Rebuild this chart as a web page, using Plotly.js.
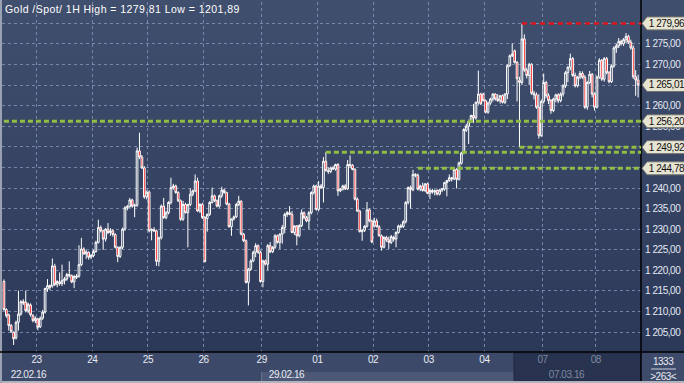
<!DOCTYPE html>
<html><head><meta charset="utf-8">
<script src="https://cdn.plot.ly/plotly-3.0.1.min.js"></script>
<style>
html,body{margin:0;padding:0;background:#2b3756;}
#wrap{position:relative;width:684px;height:383px;overflow:hidden;background:linear-gradient(#414f6e,#2a3655);}
#chart{position:absolute;left:0;top:0;width:684px;height:383px;}
#chart svg text{letter-spacing:-0.45px;}
</style></head><body><div id="wrap"><div id="chart"></div></div>
<script>
// ---- data (hourly bars, Gold spot) ----
const openP = [1217.3,1210.5,1209.2,1206.6,1205.0,1203.6,1207.4,1209.4,1212.4,1212.3,1210.2,1211.6,1209.0,1207.8,1208.2,1206.3,1208.4,1209.9,1215.5,1216.3,1216.2,1221.0,1216.6,1217.2,1216.8,1217.5,1217.9,1219.0,1218.7,1217.2,1218.3,1218.6,1221.4,1225.2,1224.0,1224.4,1223.2,1223.6,1224.6,1226.8,1230.4,1229.6,1227.6,1230.0,1229.2,1229.6,1228.7,1225.6,1223.4,1225.6,1230.0,1235.2,1235.5,1237.1,1235.6,1235.8,1249.0,1247.5,1244.9,1237.8,1239.0,1229.6,1229.9,1229.6,1222.2,1227.9,1235.6,1232.8,1234.0,1236.5,1240.1,1240.5,1238.9,1236.9,1232.4,1236.0,1234.0,1236.0,1238.5,1239.3,1241.7,1234.4,1236.0,1232.8,1232.6,1233.6,1236.5,1238.1,1236.9,1235.6,1238.1,1239.5,1238.9,1236.1,1230.6,1232.5,1233.0,1236.0,1236.8,1228.8,1227.2,1217.1,1220.3,1222.3,1224.4,1226.0,1224.4,1217.3,1222.3,1221.5,1226.0,1224.5,1225.6,1228.4,1226.8,1228.8,1230.4,1233.6,1234.0,1233.6,1229.2,1230.8,1228.4,1230.9,1234.0,1232.8,1232.0,1234.0,1238.9,1240.5,1234.8,1240.5,1240.1,1246.5,1244.2,1244.0,1244.9,1244.6,1245.7,1239.3,1239.7,1240.5,1239.8,1245.7,1245.5,1244.5,1237.3,1234.4,1229.4,1229.7,1230.7,1234.7,1232.0,1230.8,1232.0,1230.6,1228.4,1225.6,1228.0,1227.4,1226.8,1228.0,1227.6,1229.2,1230.8,1230.6,1231.8,1236.5,1240.1,1239.6,1243.3,1243.1,1239.7,1240.5,1239.4,1241.0,1238.7,1239.4,1239.0,1239.4,1238.5,1239.5,1239.7,1241.3,1241.8,1242.5,1242.2,1244.5,1242.1,1246.0,1248.5,1254.0,1255.0,1256.2,1257.6,1257.0,1260.8,1262.8,1262.8,1261.2,1258.4,1260.6,1261.6,1262.8,1261.6,1261.2,1262.4,1260.8,1262.8,1269.7,1272.1,1273.3,1270.5,1266.2,1265.6,1276.2,1268.6,1267.3,1270.0,1263.0,1262.6,1259.6,1252.7,1261.0,1265.6,1262.4,1261.2,1258.8,1261.6,1262.6,1261.2,1262.8,1264.8,1268.0,1269.3,1271.4,1267.3,1264.8,1266.9,1267.8,1266.9,1259.6,1265.6,1267.6,1262.8,1259.6,1266.9,1271.0,1266.4,1271.4,1268.0,1265.8,1269.6,1274.0,1274.5,1275.6,1275.0,1276.0,1276.8,1275.4,1274.0,1267.0,1266.2];
const highP = [1217.8,1210.8,1209.5,1207.0,1205.2,1207.8,1215.1,1212.8,1213.0,1215.1,1212.2,1212.0,1209.4,1208.8,1208.5,1208.8,1210.4,1215.8,1217.9,1216.6,1222.9,1221.6,1217.6,1219.5,1221.4,1218.4,1219.4,1222.2,1219.0,1218.9,1219.1,1226.1,1227.9,1225.6,1224.9,1224.6,1224.0,1225.0,1227.2,1232.3,1230.9,1229.9,1230.3,1231.5,1230.2,1230.0,1229.0,1225.8,1225.9,1230.4,1235.6,1235.9,1237.6,1237.4,1236.2,1249.8,1253.4,1248.0,1245.3,1239.4,1239.4,1230.2,1230.5,1229.9,1228.2,1236.0,1237.6,1234.5,1236.8,1242.5,1241.0,1240.8,1239.2,1237.2,1236.9,1236.4,1236.2,1239.9,1239.6,1243.3,1242.5,1236.3,1236.4,1233.2,1233.8,1236.8,1240.1,1238.4,1237.2,1238.4,1240.3,1239.8,1239.1,1236.4,1232.6,1233.3,1236.4,1238.1,1237.0,1229.1,1227.5,1220.6,1222.7,1224.8,1226.6,1226.3,1224.8,1222.6,1222.6,1226.4,1226.9,1225.9,1228.8,1228.7,1229.0,1231.0,1234.0,1234.4,1235.6,1234.4,1231.0,1231.0,1231.2,1234.8,1234.3,1233.2,1234.4,1239.2,1240.8,1240.8,1241.7,1241.0,1247.5,1248.7,1245.0,1245.2,1245.4,1245.9,1246.0,1240.0,1240.8,1240.9,1246.8,1247.9,1245.8,1244.8,1237.7,1234.7,1230.0,1231.0,1236.6,1235.0,1232.3,1232.8,1232.6,1231.0,1228.7,1228.3,1228.4,1228.2,1228.6,1228.4,1229.5,1231.1,1231.3,1232.2,1236.8,1240.4,1240.6,1244.4,1243.6,1243.5,1240.8,1241.3,1241.2,1241.3,1239.8,1239.8,1239.6,1239.7,1239.8,1240.0,1241.5,1242.0,1243.3,1242.7,1244.8,1244.8,1246.4,1248.8,1254.5,1255.6,1256.6,1257.8,1260.4,1261.0,1268.5,1263.1,1263.1,1261.5,1261.0,1261.9,1263.0,1263.0,1262.8,1262.6,1262.7,1263.0,1270.0,1272.4,1275.1,1273.6,1270.8,1267.0,1279.81,1277.3,1269.2,1270.4,1270.3,1263.6,1263.2,1262.8,1261.5,1267.8,1266.0,1263.0,1261.6,1261.9,1262.9,1263.0,1263.2,1265.2,1268.4,1269.6,1272.6,1271.8,1268.0,1267.2,1268.4,1268.3,1267.4,1266.0,1268.4,1267.9,1263.2,1267.3,1271.5,1271.3,1271.8,1271.8,1268.4,1270.0,1274.4,1275.0,1276.4,1276.0,1276.4,1277.6,1277.2,1276.0,1274.6,1268.6,1267.5];
const lowP = [1210.2,1208.5,1205.4,1204.8,1201.89,1203.2,1205.4,1209.0,1211.6,1209.8,1209.6,1208.8,1207.4,1207.2,1205.5,1206.0,1208.0,1209.5,1214.8,1215.2,1215.8,1216.2,1215.9,1216.3,1216.2,1216.6,1217.5,1218.3,1216.9,1215.7,1217.9,1218.2,1221.0,1223.8,1222.8,1222.6,1222.7,1223.2,1224.3,1226.5,1229.2,1225.0,1227.0,1228.8,1228.4,1228.2,1225.3,1222.0,1223.0,1225.2,1229.6,1234.6,1235.2,1235.2,1232.9,1235.4,1247.0,1244.6,1237.4,1237.2,1229.2,1227.3,1229.3,1221.1,1221.0,1227.5,1232.5,1232.4,1233.6,1236.0,1239.6,1238.6,1236.6,1232.0,1232.0,1233.8,1225.6,1235.6,1238.0,1239.0,1234.2,1233.9,1232.5,1222.0,1229.4,1233.2,1236.2,1236.6,1235.3,1235.2,1237.6,1238.6,1235.8,1230.4,1228.4,1232.1,1232.7,1235.6,1228.5,1226.9,1216.8,1211.5,1219.9,1222.0,1223.2,1224.0,1217.0,1215.9,1221.2,1220.0,1224.2,1224.2,1225.2,1226.5,1225.2,1226.5,1229.0,1233.0,1233.4,1229.0,1228.6,1226.1,1228.0,1230.5,1232.4,1231.7,1230.0,1233.6,1238.4,1234.5,1234.3,1239.8,1236.5,1244.0,1243.4,1243.6,1244.4,1244.2,1238.1,1239.0,1239.4,1239.5,1239.5,1244.8,1244.3,1237.0,1234.2,1229.2,1227.2,1229.3,1230.4,1231.7,1226.6,1230.4,1230.4,1228.2,1224.8,1225.3,1226.9,1225.2,1226.4,1227.0,1225.6,1228.9,1230.2,1230.3,1231.4,1236.0,1235.0,1239.2,1242.6,1239.4,1239.2,1239.1,1239.0,1238.5,1237.3,1238.6,1238.2,1238.2,1238.2,1239.0,1239.3,1238.0,1241.5,1241.6,1241.9,1239.9,1241.8,1245.7,1248.2,1253.6,1250.7,1255.8,1255.8,1256.6,1260.2,1260.2,1261.0,1258.1,1258.0,1260.2,1261.0,1261.2,1260.9,1260.5,1260.5,1260.4,1261.6,1269.4,1271.8,1270.2,1261.0,1249.92,1265.0,1268.2,1266.6,1265.0,1262.6,1261.5,1259.2,1252.0,1252.4,1260.5,1261.8,1260.4,1258.0,1258.4,1260.8,1260.6,1260.8,1262.2,1264.3,1265.7,1268.6,1267.0,1264.4,1264.4,1266.4,1266.5,1259.2,1259.0,1265.2,1262.0,1258.8,1259.3,1266.5,1266.0,1265.8,1267.6,1265.4,1265.5,1269.2,1272.8,1274.0,1274.6,1274.5,1275.2,1275.0,1273.6,1266.5,1262.4,1262.0];
const closeP = [1210.5,1209.0,1206.6,1205.2,1203.4,1207.4,1209.4,1212.4,1212.1,1210.2,1211.8,1209.2,1207.8,1208.4,1206.2,1208.4,1209.9,1215.6,1216.3,1215.9,1221.1,1216.6,1217.3,1216.8,1217.5,1217.9,1219.0,1218.7,1217.2,1218.5,1218.6,1221.4,1225.2,1224.0,1224.5,1223.2,1223.6,1224.6,1226.8,1230.4,1229.6,1227.6,1230.0,1229.2,1229.6,1228.7,1225.6,1223.4,1225.6,1230.0,1235.2,1235.5,1237.1,1235.6,1235.8,1249.0,1247.5,1244.9,1237.8,1239.0,1229.6,1229.9,1229.6,1222.2,1227.9,1235.6,1232.8,1234.0,1236.5,1240.1,1240.5,1238.9,1236.9,1232.4,1236.0,1234.0,1236.0,1238.5,1239.3,1241.7,1234.4,1236.0,1232.8,1222.1,1233.6,1236.5,1238.1,1236.9,1235.6,1238.1,1239.5,1238.9,1236.1,1230.6,1232.5,1233.0,1236.0,1236.8,1228.8,1227.2,1217.1,1220.3,1222.3,1224.4,1226.0,1224.4,1217.3,1222.3,1221.5,1226.0,1224.5,1225.6,1228.4,1226.8,1228.8,1230.4,1233.6,1234.0,1233.6,1229.2,1230.8,1228.4,1230.9,1234.0,1232.8,1232.0,1234.0,1238.9,1240.5,1234.8,1240.5,1240.1,1246.5,1244.2,1244.0,1244.9,1244.6,1245.7,1239.3,1239.7,1240.5,1239.8,1245.7,1245.5,1244.5,1237.3,1234.4,1229.4,1229.7,1230.7,1234.7,1232.0,1226.9,1232.0,1230.6,1228.4,1225.6,1228.0,1227.4,1226.8,1228.2,1227.6,1229.2,1230.8,1230.6,1231.8,1236.5,1240.1,1239.6,1243.3,1243.1,1239.7,1240.5,1239.4,1241.0,1238.7,1239.4,1239.0,1239.4,1238.5,1239.5,1239.8,1241.3,1241.8,1242.5,1242.2,1244.5,1242.1,1246.1,1248.5,1254.2,1255.0,1256.2,1257.6,1257.0,1260.8,1262.8,1260.4,1261.2,1258.4,1260.6,1261.6,1262.8,1261.6,1261.2,1262.4,1260.8,1262.8,1269.7,1272.1,1272.5,1270.5,1266.5,1265.6,1276.2,1268.6,1267.3,1270.0,1263.0,1262.6,1259.6,1252.7,1261.0,1265.6,1262.4,1261.2,1258.8,1261.6,1262.6,1261.2,1262.8,1264.8,1268.0,1269.3,1271.4,1267.3,1264.8,1266.9,1267.8,1266.9,1259.6,1265.6,1267.6,1262.8,1259.6,1266.9,1271.0,1266.4,1271.4,1268.0,1265.8,1269.6,1274.0,1274.5,1275.6,1275.0,1276.0,1276.8,1275.4,1274.0,1267.0,1266.2,1265.01];

const dayStart  = [14,37,60,83,107,130,153,176,199,223,245];
const dayLabels = ['23','24','25','26','29','01','02','03','04','07','08'];
const weekStart = [0,107,223];
const weekLabels = ['22.02.16','29.02.16','07.03.16'];

const yTickVals = [1205,1210,1215,1220,1225,1230,1235,1240,1245,1250,1255,1260,1265,1270,1275,1280];
const yTickText = ['1 205,00','1 210,00','1 215,00','1 220,00','1 225,00','1 230,00','1 235,00','1 240,00','','','1 255,00','1 260,00','','1 270,00','1 275,00',''];

// horizontal levels: price, start bar, label, kind
const levelPrice = [1279.96, 1256.20, 1249.92, 1248.70, 1244.78];
const levelStart = [214, 0, 213, 133, 171];
const levelLabel = ['1 279,96','1 256,20','1 249,92','','1 244,78'];
const levelKind  = ['high','support','support','support','support'];
const lastPrice = 1265.01, lastLabel = '1 265,01';

const titleText = 'Gold /Spot/ 1H High = 1279,81 Low = 1201,89';
const cornerTop = '1333', cornerBottom = '>263<';

// ---- layout geometry ----
const W = 684, H = 383, ML = 2, MR = 43, MT = 2, MB = 31;
const PW = W - ML - MR, PH = H - MT - MB;
const px = v => (v - ML) / PW;          // pixel x -> paper
const py = v => (H - MB - v) / PH;      // pixel y -> paper
const idx = closeP.map((_, i) => i);
const xr = [-0.8, 263.2];
const barPx = i => ML + (i - xr[0]) * PW / (xr[1] - xr[0]);

const FONT = '"Liberation Sans",Arial,sans-serif';
const FS = 10;

const shapes = [];
const ann = [];

// bottom strip backgrounds
shapes.push({type:'rect',xref:'paper',yref:'paper',x0:px(0),x1:px(W),y0:py(H),y1:py(H-MB),fillcolor:'#3c4968',line:{width:0},layer:'below'});
shapes.push({type:'rect',xref:'paper',yref:'paper',x0:px(barPx(weekStart[1]-0.5)),x1:px(514),y0:py(381),y1:py(372),fillcolor:'#4c5875',line:{width:0},layer:'below'});
shapes.push({type:'rect',xref:'paper',yref:'paper',x0:px(514),x1:1,y0:py(381),y1:py(353),fillcolor:'#28334f',line:{color:'#1f2840',width:1},layer:'below'});
shapes.push({type:'line',xref:'paper',yref:'paper',x0:px(barPx(weekStart[1]-0.5)),x1:px(barPx(weekStart[1]-0.5)),y0:py(381),y1:py(372),line:{color:'#6c7894',width:1}});
// bottom light border and left border
shapes.push({type:'rect',xref:'paper',yref:'paper',x0:px(0),x1:px(W),y0:py(H),y1:py(381),fillcolor:'#aeb3be',line:{width:0},layer:'below'});
shapes.push({type:'rect',xref:'paper',yref:'paper',x0:px(0),x1:px(2),y0:py(H),y1:py(0),fillcolor:'#9aa1b0',line:{width:0},layer:'below'});
// right corner box
shapes.push({type:'rect',xref:'paper',yref:'paper',x0:1,x1:px(W),y0:py(381),y1:py(352),fillcolor:'#3d4a69',line:{width:0},layer:'below'});
shapes.push({type:'line',xref:'paper',yref:'paper',x0:px(651),x1:px(676),y0:py(369),y1:py(369),line:{color:'#c9d0de',width:1}});
// black separators
shapes.push({type:'line',xref:'paper',yref:'paper',x0:1,x1:1,y0:py(381),y1:py(0),line:{color:'#000000',width:1.5}});
shapes.push({type:'line',xref:'paper',yref:'paper',x0:px(0),x1:px(W),y0:0,y1:0,line:{color:'#000000',width:1.5}});

// level lines
levelPrice.forEach((p, k) => {
  const high = levelKind[k] === 'high';
  shapes.push({type:'line',xref:'x',yref:'y',x0:levelStart[k],x1:xr[1],y0:p,y1:p,
    line:{color: high ? '#e3141b' : '#8fbd45', width: high ? 2.5 : 3, dash: high ? '5px,4px' : '5px,3px'}});
});

// price tags (arrow-shaped) on right axis
function tag(p, label, fill) {
  shapes.push({type:'path',xref:'paper',xsizemode:'pixel',xanchor:1,yref:'y',ysizemode:'pixel',yanchor:p,
    path:'M 1 0 L 6 6.5 L 46 6.5 L 46 -6.5 L 6 -6.5 Z',fillcolor:fill,line:{color:'#6f716a',width:1},layer:'above'});
  ann.push({xref:'paper',yref:'y',x:1,y:p,xanchor:'left',yanchor:'middle',xshift:4,showarrow:false,
    text:label,font:{family:FONT,size:FS,color:'#111111'}});
}
levelPrice.forEach((p, k) => { if (levelLabel[k]) tag(p, levelLabel[k], '#e6e4d3'); });
tag(lastPrice, lastLabel, '#e6e4d3');

// title
ann.push({xref:'paper',yref:'paper',x:px(3),y:py(9),xanchor:'left',yanchor:'middle',showarrow:false,
  text:'<span style="letter-spacing:0.45px">' + titleText + '</span>',font:{family:FONT,size:10.5,color:'#ffffff'}});
// week labels
weekLabels.forEach((t, k) => {
  ann.push({xref:'x',yref:'paper',x:weekStart[k] === 0 ? xr[0] : weekStart[k]-0.5,y:py(375),xanchor:'left',yanchor:'middle',
    xshift: weekStart[k] === 0 ? 5 : 3,showarrow:false,text:t,
    font:{family:FONT,size:FS,color: k === 2 ? '#7f8aa0' : '#e8ecf4'}});
});
// corner text
ann.push({xref:'paper',yref:'paper',x:px(663),y:py(361),xanchor:'center',yanchor:'middle',showarrow:false,text:cornerTop,font:{family:FONT,size:FS,color:'#e8ecf4'}});
ann.push({xref:'paper',yref:'paper',x:px(663),y:py(376),xanchor:'center',yanchor:'middle',showarrow:false,text:cornerBottom,font:{family:FONT,size:FS,color:'#e8ecf4'}});

const tickTextX = dayLabels.map((t, k) => dayStart[k] >= weekStart[2] ? '<span style="color:#7f8aa0">' + t + '</span>' : t);

const trace = {
  type:'candlestick', x: idx, open: openP, high: highP, low: lowP, close: closeP,
  increasing:{line:{color:'#ffffff',width:1}, fillcolor:'#3a4866'},
  decreasing:{line:{color:'#ffffff',width:1}, fillcolor:'#ff0000'},
  whiskerwidth:0, hoverinfo:'skip', showlegend:false
};

const layout = {
  width:W, height:H, margin:{l:ML,r:MR,t:MT,b:MB,pad:0},
  paper_bgcolor:'rgba(0,0,0,0)', plot_bgcolor:'rgba(0,0,0,0)',
  boxgap:0, showlegend:false,
  font:{family:FONT,size:FS,color:'#e8ecf4'},
  xaxis:{range:xr, rangeslider:{visible:false}, tickmode:'array',
    tickvals: dayStart.map(i => i - 0.5), ticktext: tickTextX,
    showgrid:true, gridcolor:'rgba(140,155,190,0.75)', griddash:'3px,3px', gridwidth:1,
    zeroline:false, showline:false, ticks:'', tickfont:{family:FONT,size:FS,color:'#e8ecf4'}, fixedrange:true},
  yaxis:{range:[1200.19,1285.15], side:'right', tickmode:'array', tickvals:yTickVals, ticktext:yTickText,
    showgrid:true, gridcolor:'rgba(140,155,190,0.75)', griddash:'3px,3px', gridwidth:1,
    zeroline:false, showline:false, ticks:'', ticklabelstandoff:3, tickfont:{family:FONT,size:FS,color:'#e3e9f4'}, fixedrange:true},
  shapes: shapes, annotations: ann
};

Plotly.newPlot('chart', [trace], layout, {staticPlot:true, displayModeBar:false});
</script></body></html>
